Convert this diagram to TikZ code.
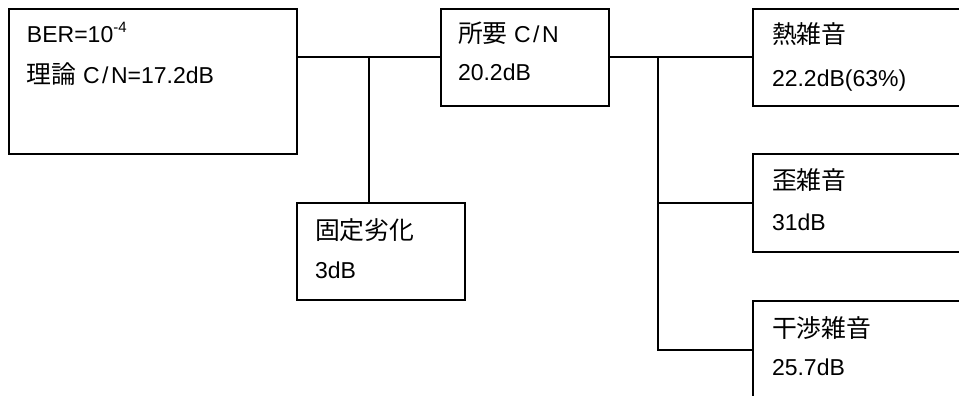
\documentclass[tikz,border=0pt]{standalone}
\usepackage{fontspec}
\setmainfont{Liberation Sans}
\newfontfamily\cjk[Scale=1.08]{Noto Sans CJK JP}
\usetikzlibrary{calc}
\tikzset{
  box/.style={draw, line width=2pt, inner sep=0pt, outer sep=0pt, anchor=north west},
  txt/.style={anchor=base west, inner sep=0pt, outer sep=0pt, font=\fontsize{23}{23}\selectfont},
  conn/.style={line width=2pt}
}
\newcommand{\cnslash}{\kern2.5pt/\kern2.5pt}
\begin{document}
\begin{tikzpicture}[x=1pt,y=-1pt]
\useasboundingbox (0,0) rectangle (959,396);
\fill[white] (0,0) rectangle (959,396);
\clip (0,0) rectangle (959,396);
% boxes
\node[box, minimum width=288pt, minimum height=145pt] (ber) at (9,9) {};
\node[box, minimum width=168pt, minimum height=97pt] (req) at (441,9) {};
\node[box, minimum width=168pt, minimum height=97pt] (fix) at (297,203) {};
\node[box, minimum width=240pt, minimum height=97pt] (heat) at (753,9) {};
\node[box, minimum width=240pt, minimum height=98pt] (dist) at (753,154) {};
\node[box, minimum width=240pt, minimum height=98pt] (intf) at (753,301) {};
% texts
\node[txt] (t1a) at ($(ber.north west)+(18,34)$) {BER=10\raisebox{0.45em}{\fontsize{15}{15}\selectfont -4}};
\node[txt] (t1b) at ($(ber.north west)+(18,75)$) {{\cjk 理論} C\cnslash N=17.2dB};
\node[txt] (t2a) at ($(req.north west)+(17,34)$) {{\cjk 所要} C\cnslash N};
\node[txt] (t2b) at ($(req.north west)+(17,72)$) {20.2dB};
\node[txt] (t3a) at ($(fix.north west)+(18,36)$) {\cjk 固定劣化};
\node[txt] (t3b) at ($(fix.north west)+(18,75)$) {3dB};
\node[txt] (t4a) at ($(heat.north west)+(19,35)$) {\cjk 熱雑音};
\node[txt] (t4b) at ($(heat.north west)+(19,77)$) {22.2dB(63\%)};
\node[txt] (t5a) at ($(dist.north west)+(19,35)$) {\cjk 歪雑音};
\node[txt] (t5b) at ($(dist.north west)+(19,76)$) {31dB};
\node[txt] (t6a) at ($(intf.north west)+(19,36)$) {\cjk 干渉雑音};
\node[txt] (t6b) at ($(intf.north west)+(19,74)$) {25.7dB};
% junctions
\coordinate (j1) at (369,57.5);
\coordinate (j2) at (658,57.5);
% connectors
\draw[conn] (ber.east |- req.west) -- (req.west);
\draw[conn] (j1) -- (j1 |- fix.north);
\draw[conn] (req.east) -- (heat.west);
\draw[conn] (j2) |- (intf.west);
\draw[conn] (j2 |- dist.west) -- (dist.west);
\end{tikzpicture}
\end{document}
